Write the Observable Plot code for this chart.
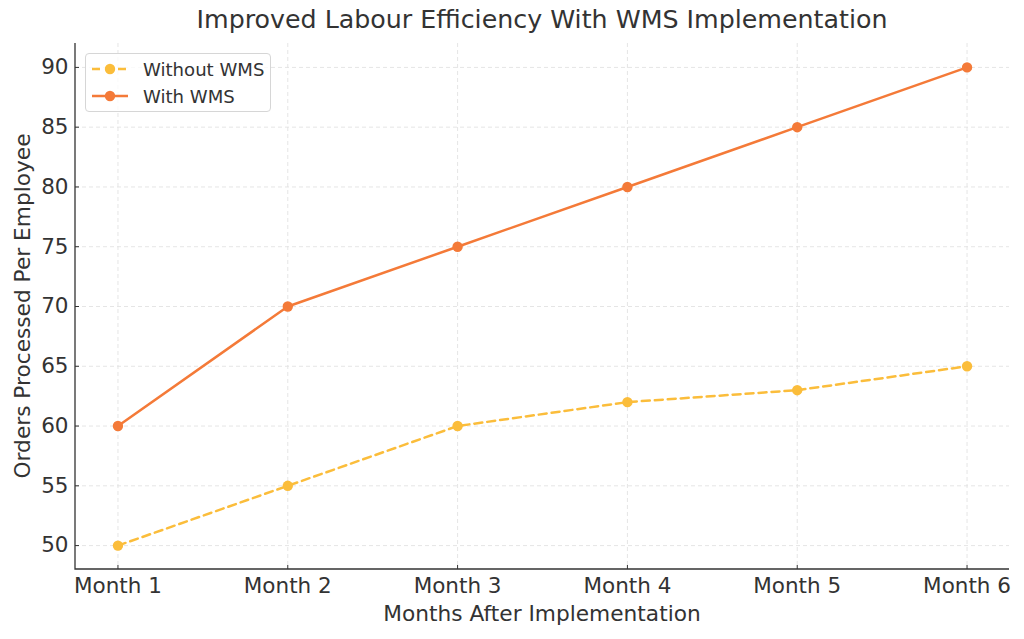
<!DOCTYPE html>
<html>
<head>
<meta charset="utf-8">
<script src="https://cdn.jsdelivr.net/npm/d3@7"></script>
<script src="https://cdn.jsdelivr.net/npm/@observablehq/plot@0.6"></script>
<style>
  html, body { margin: 0; padding: 0; background: #fff; }
  body { width: 1024px; height: 639px; position: relative; overflow: hidden; font-family: "DejaVu Sans", sans-serif; color: #333; }
  #title { position: absolute; left: 75px; width: 934px; top: 5px; text-align: center; font-size: 25.3px; color: #333; }
  #chart { position: absolute; left: 0; top: 43px; }
  #ylabel { position: absolute; left: 22px; top: 306px; transform: translate(-50%, -50%) rotate(-90deg); white-space: nowrap; font-size: 21.7px; }
  #xlabel { position: absolute; left: 542px; top: 613px; transform: translate(-50%, -50%); white-space: nowrap; font-size: 21.7px; }
  #legend { position: absolute; left: 85px; top: 53px; width: 186px; height: 59px; border: 1px solid #d6d6d6; border-radius: 4px; background: rgba(255,255,255,0.8); box-sizing: border-box; font-size: 18.1px; }
  .item { position: absolute; left: 5px; height: 24px; display: flex; align-items: center; }
  .item svg { margin-right: 14px; }
</style>
</head>
<body>
<div id="title">Improved Labour Efficiency With WMS Implementation</div>
<div id="chart"></div>
<div id="ylabel">Orders Processed Per Employee</div>
<div id="xlabel">Months After Implementation</div>
<div id="legend"></div>
<script>
const months = ["Month 1", "Month 2", "Month 3", "Month 4", "Month 5", "Month 6"];
const withoutWMS = [50, 55, 60, 62, 63, 65];
const withWMS = [60, 70, 75, 80, 85, 90];
const yTicks = [50, 55, 60, 65, 70, 75, 80, 85, 90];
const seriesNames = ["Without WMS", "With WMS"];
const colors = { "Without WMS": "#FBBD3B", "With WMS": "#F47A38" };
const dashes = { "Without WMS": "8,5", "With WMS": null };

const data = [];
months.forEach((m, i) => {
  data.push({ month: m, value: withoutWMS[i], series: "Without WMS" });
  data.push({ month: m, value: withWMS[i], series: "With WMS" });
});

const W = 1024, H = 596;
const mL = 75, mR = 15, mT = 0, mB = 70;
const innerW = W - mL - mR, innerH = H - mT - mB;

// spines (left + bottom), drawn from the plot's own dimensions
const spines = (index, scales, values, dims) => {
  const g = d3.create("svg:g");
  const l = dims.marginLeft, r = dims.width - dims.marginRight;
  const t = dims.marginTop, b = dims.height - dims.marginBottom;
  g.append("path")
    .attr("d", `M${l},${t}V${b}H${r}`)
    .attr("fill", "none")
    .attr("stroke", "#333")
    .attr("stroke-width", 1.3);
  return g.node();
};

const marks = [
  Plot.gridY(yTicks, { stroke: "#e2e2e2", strokeOpacity: 1, strokeDasharray: "4,3", strokeWidth: 0.9 }),
  Plot.gridX(months, { stroke: "#e2e2e2", strokeOpacity: 1, strokeDasharray: "4,3", strokeWidth: 0.9 }),
  Plot.ruleY(yTicks, { stroke: "#333", strokeWidth: 1, insetRight: innerW - 4 }),
  Plot.ruleX(months, { stroke: "#333", strokeWidth: 1, insetTop: innerH - 4 }),
  Plot.axisY(yTicks, { tickSize: 0, tickPadding: 7, fontSize: 21.5, fill: "#333", label: null }),
  Plot.axisX(months, { tickSize: 0, tickPadding: 8, fontSize: 21.5, fill: "#333", label: null }),
  spines
];
for (const s of seriesNames) {
  const d = data.filter(r => r.series === s);
  marks.push(Plot.line(d, { x: "month", y: "value", stroke: colors[s], strokeWidth: 2.5, strokeDasharray: dashes[s] }));
  marks.push(Plot.dot(d, { x: "month", y: "value", fill: colors[s], r: 5.2 }));
}

const chart = Plot.plot({
  width: W, height: H,
  marginLeft: mL, marginRight: mR, marginTop: mT, marginBottom: mB,
  style: { fontFamily: "DejaVu Sans, sans-serif", color: "#333", background: "transparent", overflow: "visible" },
  x: { type: "point", domain: months, padding: 0.25, round: false, axis: null },
  y: { domain: [48, 92], axis: null },
  marks
});
document.getElementById("chart").appendChild(chart);

const legend = document.getElementById("legend");
seriesNames.forEach((s, i) => {
  const item = document.createElement("div");
  item.className = "item";
  item.style.top = (3 + i * 27) + "px";
  const dash = dashes[s] ? `stroke-dasharray="8,5"` : "";
  item.innerHTML = `<svg width="38" height="14"><line x1="1" y1="7" x2="37" y2="7" stroke="${colors[s]}" stroke-width="2.5" ${dash}/><circle cx="19" cy="7" r="5.2" fill="${colors[s]}"/></svg><span>${s}</span>`;
  legend.appendChild(item);
});
</script>
</body>
</html>
